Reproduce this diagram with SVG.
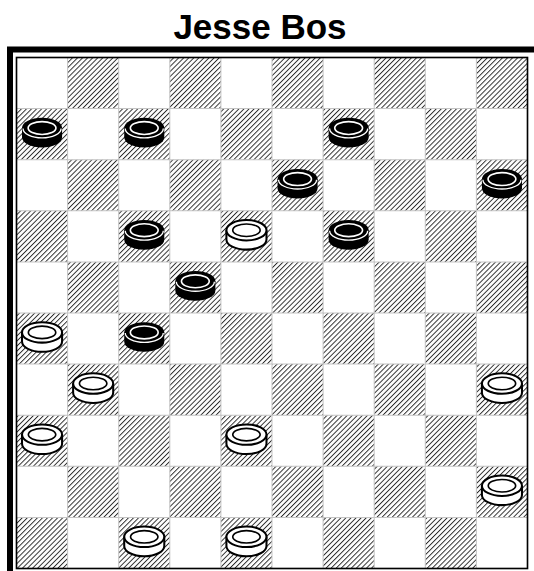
<svg xmlns="http://www.w3.org/2000/svg" xmlns:xlink="http://www.w3.org/1999/xlink" width="534" height="571" viewBox="0 0 534 571">
  <style>
    .title { font-family: "Liberation Sans", Arial, sans-serif; font-weight: bold; font-size: 35px; fill: #000; }
    .frame { fill: none; stroke: #000; stroke-width: 6; stroke-linejoin: miter; }
    .dark { fill: url(#hatch); }
    .grid { fill: none; stroke: #c4c4c4; stroke-width: 1; }
    .border { fill: none; stroke: #000; stroke-width: 1.6; }
  </style>
  <defs>
    <pattern id="hatch" patternUnits="userSpaceOnUse" width="3.5" height="10" patternTransform="rotate(45)">
      <rect x="0" y="0" width="3.5" height="10" fill="#fff"/>
      <line x1="0.5" y1="0" x2="0.5" y2="10" stroke="#111" stroke-width="0.85"/>
    </pattern>
    <g id="bp">
      <path d="M-19.6,-6 V3 A19.6,10 0 0 0 19.6,3 V-6 Z" fill="#000"/>
      <ellipse cx="0" cy="-6" rx="19.6" ry="10" fill="#000"/>
      <path d="M-18.6,-5.5 A18.6,9.2 0 0 0 18.6,-5.5" fill="none" stroke="#fff" stroke-width="1.3"/>
      <ellipse cx="0" cy="-6" rx="13.6" ry="6.3" fill="none" stroke="#fff" stroke-width="1.6"/>
    </g>
    <g id="wp">
      <path d="M-19.6,-6 V3 A19.6,10 0 0 0 19.6,3 V-6" fill="#fff" stroke="#000" stroke-width="2"/>
      <ellipse cx="0" cy="-6" rx="19.6" ry="10" fill="#fff" stroke="#000" stroke-width="2"/>
      <ellipse cx="0" cy="-6" rx="13.4" ry="6.1" fill="none" stroke="#000" stroke-width="1.6"/>
    </g>
  </defs>

  <rect x="0" y="0" width="534" height="571" fill="#fff"/>

  <g id="title">
    <text class="title" x="260" y="39" text-anchor="middle">Jesse Bos</text>
  </g>

  <g id="frame">
    <path class="frame" d="M10,571 V49.5 H534"/>
  </g>

  <g id="board" transform="translate(16.5,57.5) scale(1.022)">
    <rect x="0" y="0" width="500" height="500" fill="#fff"/>
    <path class="dark" d="M50,0 h50v50h-50z m100,0h50v50h-50z m100,0h50v50h-50z m100,0h50v50h-50z m100,0h50v50h-50z
      M0,50 h50v50h-50z m100,0h50v50h-50z m100,0h50v50h-50z m100,0h50v50h-50z m100,0h50v50h-50z
      M50,100 h50v50h-50z m100,0h50v50h-50z m100,0h50v50h-50z m100,0h50v50h-50z m100,0h50v50h-50z
      M0,150 h50v50h-50z m100,0h50v50h-50z m100,0h50v50h-50z m100,0h50v50h-50z m100,0h50v50h-50z
      M50,200 h50v50h-50z m100,0h50v50h-50z m100,0h50v50h-50z m100,0h50v50h-50z m100,0h50v50h-50z
      M0,250 h50v50h-50z m100,0h50v50h-50z m100,0h50v50h-50z m100,0h50v50h-50z m100,0h50v50h-50z
      M50,300 h50v50h-50z m100,0h50v50h-50z m100,0h50v50h-50z m100,0h50v50h-50z m100,0h50v50h-50z
      M0,350 h50v50h-50z m100,0h50v50h-50z m100,0h50v50h-50z m100,0h50v50h-50z m100,0h50v50h-50z
      M50,400 h50v50h-50z m100,0h50v50h-50z m100,0h50v50h-50z m100,0h50v50h-50z m100,0h50v50h-50z
      M0,450 h50v50h-50z m100,0h50v50h-50z m100,0h50v50h-50z m100,0h50v50h-50z m100,0h50v50h-50z"/>
    <path class="grid" d="M50,0V500 M100,0V500 M150,0V500 M200,0V500 M250,0V500 M300,0V500 M350,0V500 M400,0V500 M450,0V500
      M0,50H500 M0,100H500 M0,150H500 M0,200H500 M0,250H500 M0,300H500 M0,350H500 M0,400H500 M0,450H500"/>
    <rect class="border" x="0" y="0" width="500" height="500"/>

    <g id="black-pieces">
      <g id="b1"><use xlink:href="#bp" href="#bp" x="25" y="75"/></g>
      <g id="b2"><use xlink:href="#bp" href="#bp" x="125" y="75"/></g>
      <g id="b3"><use xlink:href="#bp" href="#bp" x="325" y="75"/></g>
      <g id="b4"><use xlink:href="#bp" href="#bp" x="275" y="125"/></g>
      <g id="b5"><use xlink:href="#bp" href="#bp" x="475" y="125"/></g>
      <g id="b6"><use xlink:href="#bp" href="#bp" x="125" y="175"/></g>
      <g id="b7"><use xlink:href="#bp" href="#bp" x="325" y="175"/></g>
      <g id="b8"><use xlink:href="#bp" href="#bp" x="175" y="225"/></g>
      <g id="b9"><use xlink:href="#bp" href="#bp" x="125" y="275"/></g>
    </g>
    <g id="white-pieces">
      <g id="w1"><use xlink:href="#wp" href="#wp" x="225" y="175"/></g>
      <g id="w2"><use xlink:href="#wp" href="#wp" x="25" y="275"/></g>
      <g id="w3"><use xlink:href="#wp" href="#wp" x="75" y="325"/></g>
      <g id="w4"><use xlink:href="#wp" href="#wp" x="475" y="325"/></g>
      <g id="w5"><use xlink:href="#wp" href="#wp" x="25" y="375"/></g>
      <g id="w6"><use xlink:href="#wp" href="#wp" x="225" y="375"/></g>
      <g id="w7"><use xlink:href="#wp" href="#wp" x="475" y="425"/></g>
      <g id="w8"><use xlink:href="#wp" href="#wp" x="125" y="475"/></g>
      <g id="w9"><use xlink:href="#wp" href="#wp" x="225" y="475"/></g>
    </g>
  </g>
</svg>
